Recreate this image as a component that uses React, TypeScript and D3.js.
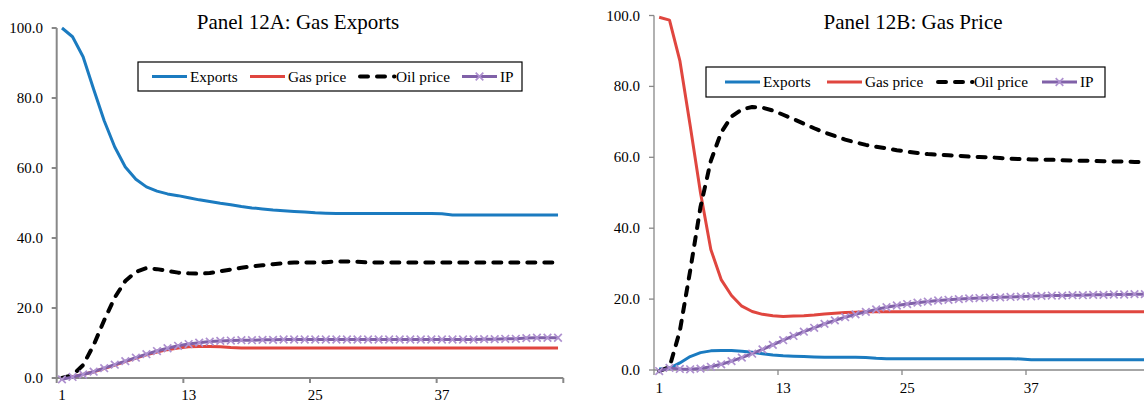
import React from "react";
import * as d3 from "d3";

const periods: number[] = d3.range(1, 49);
const seriesNames = ["Exports", "Gas price", "Oil price", "IP"];
const tickLabelsX = [1, 13, 25, 37];
const tickValuesY = [0, 20, 40, 60, 80, 100];

// Panel 12A: Gas Exports shock
const exportsA = [100, 97.5, 91.8, 82.5, 73.5, 66, 60.3, 56.8, 54.6, 53.4, 52.6, 52.1, 51.5, 50.9, 50.4, 49.9, 49.5, 49.0, 48.6, 48.3, 48.0, 47.8, 47.6, 47.4, 47.2, 47.1,
  47.0, 47.0, 47.0, 47.0, 47.0, 47.0, 47.0, 47.0, 47.0, 47.0, 46.9,
  46.6, 46.6, 46.6, 46.6, 46.6, 46.6, 46.6, 46.6, 46.6, 46.6, 46.6];
const gasPriceA = [0, 0.4, 1.0, 1.8, 2.7, 3.7, 4.7, 5.7, 6.6, 7.4, 8.1, 8.6, 8.9, 9.0, 9.0, 8.9, 8.7,
  8.6, 8.6, 8.6, 8.6, 8.6, 8.6, 8.6, 8.6, 8.6, 8.6, 8.6, 8.6, 8.6, 8.6, 8.6, 8.6, 8.6, 8.6, 8.6, 8.6, 8.6, 8.6, 8.6, 8.6, 8.6, 8.6, 8.6, 8.6, 8.6, 8.6, 8.6];
const oilPriceA = [0, 0.8, 3.7, 9.4, 16.5, 23, 27.7, 30.3, 31.4, 31.1, 30.6, 30.1, 29.9, 29.8, 30.0, 30.5, 31.0, 31.5, 31.9, 32.2, 32.5, 32.8, 33.0, 33.0, 33.0, 33.1, 33.3, 33.3, 33.2,
  33.0, 33.0, 33.0, 33.0, 33.0, 33.0, 33.0, 33.0, 33.0, 33.0, 33.0, 33.0, 33.0, 33.0, 33.0, 33.0, 33.0, 33.0, 33.0];
const ipA = [-0.4, 0.3, 1.0, 1.8, 2.8, 3.8, 4.8, 5.8, 6.8, 7.7, 8.5, 9.2, 9.7, 10.1, 10.4, 10.6, 10.7, 10.8, 10.8, 10.9, 10.9, 11.0,
  11.0, 11.0, 11.0, 11.0, 11.0, 11.0, 11.0, 11.0, 11.0, 11.0, 11.0, 11.0, 11.0, 11.0, 11.0, 11.0, 11.0, 11.0,
  11.1, 11.1, 11.2, 11.2, 11.4, 11.5, 11.5, 11.5];

// Panel 12B: Gas Price shock
const exportsB = [0.3, 0.5, 2.0, 3.8, 4.9, 5.4, 5.5, 5.5, 5.3, 5.0, 4.6, 4.2, 4.0, 3.9, 3.8, 3.7, 3.6, 3.6, 3.6, 3.6, 3.5, 3.3, 3.2,
  3.2, 3.2, 3.2, 3.2, 3.2, 3.2, 3.2, 3.2, 3.2, 3.2, 3.2, 3.2, 3.1,
  2.9, 2.9, 2.9, 2.9, 2.9, 2.9, 2.9, 2.9, 2.9, 2.9, 2.9, 2.9];
const gasPriceB = [99.5, 98.7, 87.3, 69, 50, 34, 25.5, 21, 18, 16.5, 15.7, 15.3, 15.1, 15.2, 15.3, 15.5, 15.8, 16.0, 16.2, 16.3, 16.4,
  16.4, 16.4, 16.4, 16.4, 16.4, 16.4, 16.4, 16.4, 16.4, 16.4, 16.4, 16.4, 16.4, 16.4, 16.4, 16.4, 16.4, 16.4, 16.4, 16.4, 16.4, 16.4, 16.4, 16.4, 16.4, 16.4, 16.4];
const oilPriceB = [-0.3, 0.8, 11, 28, 46, 59, 67, 71.5, 73.5, 74.2, 74.0, 73.2, 72.0, 70.8, 69.5, 68.2, 67.0, 66.0, 65.0, 64.2, 63.5, 63.0, 62.5, 62.0, 61.6, 61.2, 60.9, 60.7, 60.6, 60.4,
  60.2, 60.1, 60.0, 59.8, 59.6, 59.5, 59.4, 59.3, 59.3, 59.2, 59.1, 59.0, 59.0, 58.9, 58.8, 58.8, 58.7, 58.7];
const ipB = [-0.3, 0.6, 0.3, 0.2, 0.4, 0.9, 1.6, 2.5, 3.5, 4.6, 5.8, 7.1, 8.4, 9.6, 10.8, 11.9, 13.0, 14.0, 14.9, 15.7,
  16.4, 17.1, 17.7, 18.2, 18.6, 19.0, 19.3, 19.6, 19.8, 20.0, 20.2, 20.3, 20.4, 20.5, 20.6, 20.7, 20.8, 20.9, 21.0, 21.0,
  21.1, 21.1, 21.2, 21.2, 21.3, 21.3, 21.4, 21.4];

const COLORS = { exports: "#1B7BC0", gas: "#E0463F", oil: "#000000", ip: "#8061A8", ipMarker: "#AE90CF" };
const FONT = "'Liberation Serif', 'Times New Roman', serif";

type PanelCfg = {
  title: string;
  titleX: number;
  xRange: [number, number];
  yRange: [number, number];
  axisWidth: number;
  labelRight: number;
  xLabelY: number;
  legend: { x: number; y: number; w: number; h: number; items: number[] };
  data: number[][];
};

const panels: PanelCfg[] = [
  {
    title: "Panel 12A: Gas Exports",
    titleX: 298,
    xRange: [56.7, 563.3],
    yRange: [378, 28],
    axisWidth: 2,
    labelRight: 43,
    xLabelY: 400,
    legend: { x: 138, y: 62, w: 384, h: 29, items: [152, 250, 358, 462] },
    data: [exportsA, gasPriceA, oilPriceA, ipA],
  },
  {
    title: "Panel 12B: Gas Price",
    titleX: 913,
    xRange: [654, 1150],
    yRange: [370, 15.5],
    axisWidth: 1.3,
    labelRight: 640,
    xLabelY: 393,
    legend: { x: 706, y: 67, w: 399, h: 30, items: [725, 827, 936, 1042] },
    data: [exportsB, gasPriceB, oilPriceB, ipB],
  },
];

const seriesStyle = [
  { color: COLORS.exports, width: 3, dash: undefined as string | undefined, cap: "butt" },
  { color: COLORS.gas, width: 3, dash: undefined as string | undefined, cap: "butt" },
  { color: COLORS.oil, width: 4, dash: "8,9", cap: "round" },
  { color: COLORS.ip, width: 3, dash: undefined as string | undefined, cap: "butt" },
];

function XMark({ x, y, s, color }: { x: number; y: number; s: number; color: string }) {
  return (
    <path d={`M${x - s},${y - s}L${x + s},${y + s}M${x - s},${y + s}L${x + s},${y - s}`} stroke={color} strokeWidth={1.7} fill="none" />
  );
}

function Panel({ cfg }: { cfg: PanelCfg }) {
  const x = d3.scalePoint<number>().domain(periods).range(cfg.xRange).padding(0.5);
  const y = d3.scaleLinear().domain([0, 100]).range(cfg.yRange);
  const step = x.step();
  const line = d3
    .line<number>()
    .x((_, i) => x(periods[i]) as number)
    .y((d) => y(d))
    .curve(d3.curveLinear);
  const boundaryTicks = [1, 13, 25, 37, 49].map((p) => cfg.xRange[0] + (p - 1) * step);
  const fmt = d3.format(".1f");
  const axisColor = "#888888";
  const y0 = y(0);
  const lg = cfg.legend;
  const lgMid = lg.y + lg.h / 2;
  return (
    <g>
      <text x={cfg.titleX} y={29} textAnchor="middle" fontFamily={FONT} fontSize={21} fill="#000">
        {cfg.title}
      </text>
      <line x1={cfg.xRange[0]} x2={cfg.xRange[0]} y1={y(100)} y2={y0} stroke={axisColor} strokeWidth={cfg.axisWidth} />
      <line x1={cfg.xRange[0]} x2={cfg.xRange[1]} y1={y0} y2={y0} stroke={axisColor} strokeWidth={cfg.axisWidth} />
      {tickValuesY.map((v) => (
        <g key={v}>
          <line x1={cfg.xRange[0] - 5} x2={cfg.xRange[0]} y1={y(v)} y2={y(v)} stroke={axisColor} strokeWidth={cfg.axisWidth} />
          <text x={cfg.labelRight} y={y(v) + 5} textAnchor="end" fontFamily={FONT} fontSize={15} fill="#000">
            {fmt(v)}
          </text>
        </g>
      ))}
      {boundaryTicks.map((bx, i) => (
        <line key={i} x1={bx} x2={bx} y1={y0} y2={y0 + 5} stroke={axisColor} strokeWidth={cfg.axisWidth} />
      ))}
      {tickLabelsX.map((p) => (
        <text key={p} x={x(p) as number} y={cfg.xLabelY} textAnchor="middle" fontFamily={FONT} fontSize={15} fill="#000">
          {p}
        </text>
      ))}
      {cfg.data.map((vals, si) => {
        const st = seriesStyle[si];
        return (
          <g key={si}>
            <path
              d={line(vals) || ""}
              fill="none"
              stroke={st.color}
              strokeWidth={st.width}
              strokeDasharray={st.dash}
              strokeLinecap={st.cap as any}
              strokeLinejoin="round"
            />
            {si === 3 &&
              vals.map((v, i) => <XMark key={i} x={x(periods[i]) as number} y={y(v)} s={3.8} color={COLORS.ipMarker} />)}
          </g>
        );
      })}
      <rect x={lg.x} y={lg.y} width={lg.w} height={lg.h} fill="#fff" stroke="#000" strokeWidth={1.2} />
      {seriesNames.map((name, si) => {
        const st = seriesStyle[si];
        const lx = lg.items[si];
        return (
          <g key={name}>
            <line
              x1={lx + (si === 2 ? 2 : 0)}
              x2={lx + (si === 2 ? 36.5 : 35)}
              y1={lgMid}
              y2={lgMid}
              stroke={st.color}
              strokeWidth={st.width}
              strokeDasharray={st.dash}
              strokeLinecap={st.cap as any}
            />
            {si === 3 && <XMark x={lx + 17.5} y={lgMid} s={3.8} color={COLORS.ipMarker} />}
            <text x={lx + 38} y={lgMid + 5} fontFamily={FONT} fontSize={15.3} fill="#000">
              {name}
            </text>
          </g>
        );
      })}
    </g>
  );
}

export default function App() {
  return (
    <svg
      width={1144}
      height={407}
      style={{ position: "absolute", left: 0, top: 0, background: "#fff" }}
      xmlns="http://www.w3.org/2000/svg"
    >
      <rect x={0} y={0} width={1144} height={407} fill="#fff" />
      {panels.map((p) => (
        <Panel key={p.title} cfg={p} />
      ))}
    </svg>
  );
}
